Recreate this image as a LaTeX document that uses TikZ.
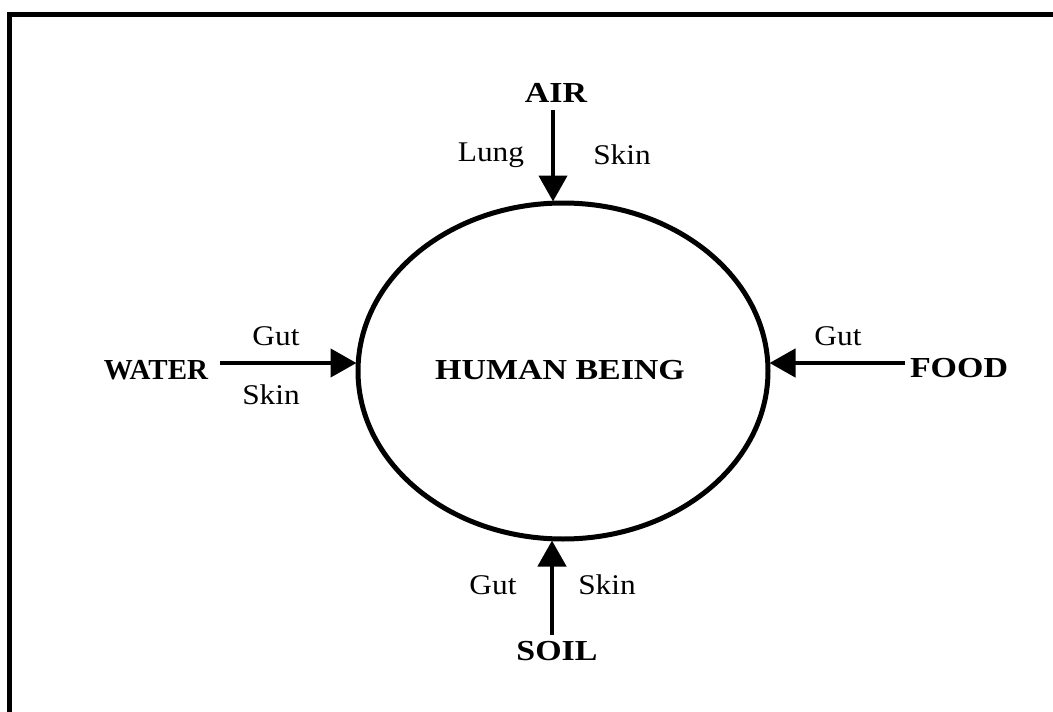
\documentclass[tikz,border=0pt]{standalone}
\usepackage{fontspec}
\setmainfont{Liberation Serif}
\newfontfamily\bigfnt[FakeStretch=1.17]{Liberation Serif}
\newfontfamily\lblfnt[FakeStretch=1.1]{Liberation Serif}
\usetikzlibrary{arrows.meta,shapes.geometric}
\begin{document}
\begin{tikzpicture}[x=1pt,y=-1pt,
  big/.style={font=\bigfnt\fontsize{29}{31}\selectfont\bfseries, inner sep=0pt},
  lbl/.style={font=\lblfnt\fontsize{28.5}{30}\selectfont, inner sep=0pt},
  arr/.style={line width=4.5pt, -{Triangle[length=26pt,width=28pt]}, shorten >=-1pt}]
\useasboundingbox (0,0) rectangle (1053,712);
\draw[line width=5pt] (9,712) -- (9,14) -- (1053,14);
\node[draw, ellipse, line width=5pt, minimum width=410pt, minimum height=336pt, inner sep=0pt] (hb) at (563,371) {};
\node[big] (hbt) at (560,370) {HUMAN BEING};
\node[big] (air) at (556,93) {AIR};
\node[big, font=\fontsize{29}{31}\selectfont\bfseries] (water) at (156,370) {WATER};
\node[big] (food) at (959,368) {FOOD};
\node[big] (soil) at (557,651) {SOIL};
\coordinate (airtail) at (553,110);
\coordinate (watertail) at (220,363);
\coordinate (foodtail) at (905,363);
\coordinate (soiltail) at (552,635);
\draw[arr] (airtail) -- (airtail |- hb.north);
\draw[arr] (watertail) -- (hb.west |- watertail);
\draw[arr] (foodtail) -- (hb.east |- foodtail);
\draw[arr] (soiltail) -- (soiltail |- hb.south);
\node[lbl] (lung) at (491,155) {Lung};
\node[lbl] (askin) at (622,155) {Skin};
\node[lbl] (wgut) at (276,336) {Gut};
\node[lbl] (wskin) at (271,395) {Skin};
\node[lbl] (fgut) at (838,336) {Gut};
\node[lbl] (sgut) at (493,585) {Gut};
\node[lbl] (sskin) at (607,585) {Skin};
\end{tikzpicture}
\end{document}
